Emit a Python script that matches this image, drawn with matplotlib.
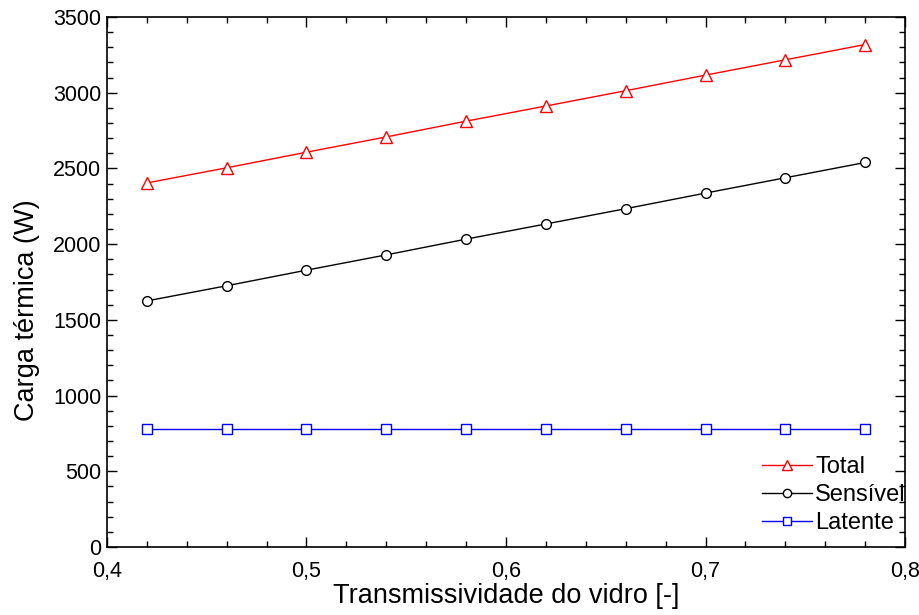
import numpy as np
import matplotlib
matplotlib.use("Agg")
import matplotlib.pyplot as plt
from matplotlib.ticker import MultipleLocator, FuncFormatter

plt.rcParams['font.family'] = ['Liberation Sans', 'DejaVu Sans']

# Transmissividade do vidro [-]
tau = [0.42, 0.46, 0.50, 0.54, 0.58, 0.62, 0.66, 0.70, 0.74, 0.78]

# Carga térmica (W)
total = [2404, 2504, 2607, 2708, 2812, 2912, 3013, 3116, 3217, 3318]
sensivel = [1625, 1725, 1828, 1929, 2033, 2133, 2234, 2337, 2438, 2539]
latente = [779, 779, 779, 779, 779, 779, 779, 779, 779, 779]


def virgula(v, pos):
    s = ('%g' % v)
    return s.replace('.', ',')


fig = plt.figure(figsize=(9.2, 6.15), dpi=100)
ax = fig.add_axes([0.1163, 0.1106, 0.8674, 0.8618])

ax.plot(tau, total, color='red', lw=1, marker='^', ms=8, mfc='white',
        mec='red', mew=1, label='Total')
ax.plot(tau, sensivel, color='black', lw=1, marker='o', ms=7, mfc='white',
        mec='black', mew=1, label='Sensível')
ax.plot(tau, latente, color='blue', lw=1, marker='s', ms=7, mfc='white',
        mec='blue', mew=1, label='Latente')

ax.set_xlim(0.4, 0.8)
ax.set_ylim(0, 3500)
ax.xaxis.set_major_locator(MultipleLocator(0.1))
ax.xaxis.set_minor_locator(MultipleLocator(0.02))
ax.yaxis.set_major_locator(MultipleLocator(500))
ax.yaxis.set_minor_locator(MultipleLocator(100))
ax.xaxis.set_major_formatter(FuncFormatter(virgula))

ax.tick_params(which='both', direction='in', top=True, right=True,
               labelsize=15.5, width=1)
ax.tick_params(which='major', length=7)
ax.tick_params(which='minor', length=4)
ax.tick_params(axis='x', which='major', pad=10)
ax.tick_params(axis='y', which='major', pad=4)
for s in ax.spines.values():
    s.set_linewidth(1.2)

ax.set_xlabel('Transmissividade do vidro [-]', fontsize=19.5, labelpad=1)
ax.set_ylabel('Carga térmica (W)', fontsize=19.5, labelpad=7)
ax.yaxis.set_label_coords(-0.084, 0.447)

ax.legend(loc='upper left', frameon=False, fontsize=17, handlelength=2.1,
          handletextpad=0.15, labelspacing=0.25, borderaxespad=0,
          borderpad=0, markerscale=0.85, bbox_to_anchor=(0.821, 0.171))

fig.savefig('out.png', dpi=100)
